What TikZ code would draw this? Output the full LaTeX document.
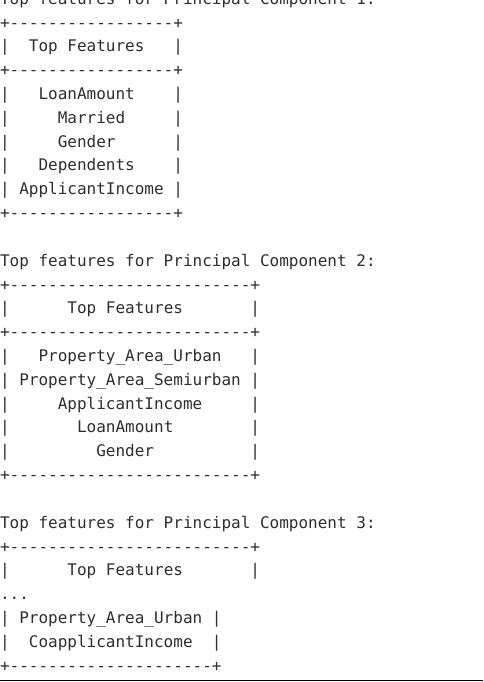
\documentclass[tikz,border=0pt]{standalone}
\usepackage{fontspec}
\newfontfamily\mono[WordSpace={1,0,0}]{DejaVu Sans Mono}
\usetikzlibrary{positioning}
\definecolor{outgray}{HTML}{2E2E2E}
\newcommand\dashrow[1]{\foreach\k in {1,...,#1}{-}}

\begin{document}
\begin{tikzpicture}[x=1pt,y=-1pt,
  ln/.style={anchor=base west,inner sep=0pt,outer sep=0pt,text=outgray,font=\mono\fontsize{16}{16}\selectfont}]
\useasboundingbox (0,0) rectangle (483,682);
% output lines, one node per printed line
\foreach \n/\txt in {
  0/{Top features for Principal Component 1:},
  1/{+\dashrow{17}+},
  2/{|~~Top~Features~~~|},
  3/{+\dashrow{17}+},
  4/{|~~~LoanAmount~~~~|},
  5/{|~~~~~Married~~~~~|},
  6/{|~~~~~Gender~~~~~~|},
  7/{|~~~Dependents~~~~|},
  8/{|~ApplicantIncome~|},
  9/{+\dashrow{17}+},
  11/{Top features for Principal Component 2:},
  12/{+\dashrow{25}+},
  13/{|~~~~~~Top~Features~~~~~~~|},
  14/{+\dashrow{25}+},
  15/{|~~~Property\_Area\_Urban~~~|},
  16/{|~Property\_Area\_Semiurban~|},
  17/{|~~~~~ApplicantIncome~~~~~|},
  18/{|~~~~~~~LoanAmount~~~~~~~~|},
  19/{|~~~~~~~~~Gender~~~~~~~~~~|},
  20/{+\dashrow{25}+},
  22/{Top features for Principal Component 3:},
  23/{+\dashrow{25}+},
  24/{|~~~~~~Top~Features~~~~~~~|},
  25/{...},
  26/{|~Property\_Area\_Urban~|},
  27/{|~~CoapplicantIncome~~|},
  28/{+\dashrow{21}+}}
  \node[ln] (l\n) at (0,{4.2+23.82*\n}) {\txt};
% rule under the output
\draw[line width=1pt] (0,680.5) -- (483,680.5);
\end{tikzpicture}
\end{document}
